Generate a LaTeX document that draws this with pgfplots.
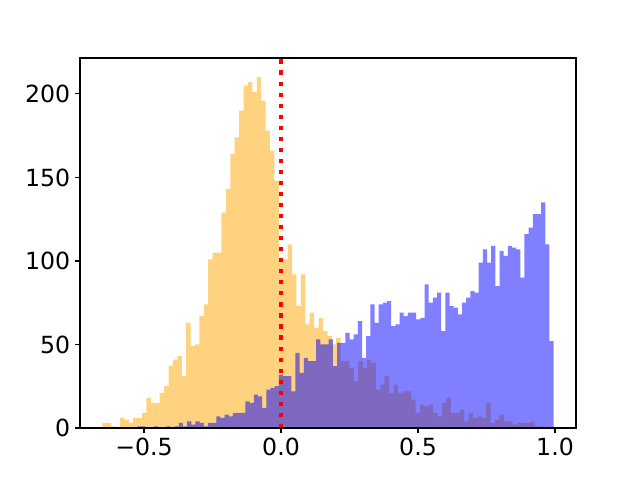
\documentclass[border=0pt]{standalone}
\usepackage{fontspec}
\setmainfont{DejaVu Sans}
\usepackage{pgfplots}
\pgfplotsset{compat=1.18}
\usepackage{pgfplotstable}
\definecolor{mplorange}{RGB}{255,165,0}
\definecolor{mplblue}{RGB}{0,0,255}

\pgfplotstableread{
x y
-0.652 3
-0.6359 3
-0.6198 1
-0.6037 0
-0.5876 6
-0.5715 5
-0.5554 3
-0.5393 6
-0.5232 6
-0.5071 9
-0.491 18
-0.4749 15
-0.4588 15
-0.4427 21
-0.4266 25
-0.4105 37
-0.3944 41
-0.3783 43
-0.3622 31
-0.3461 63
-0.330 49
-0.3139 50
-0.2978 67
-0.2817 74
-0.2656 101
-0.2495 105
-0.2334 105
-0.2173 129
-0.2012 143
-0.1851 164
-0.169 174
-0.1529 190
-0.1368 205
-0.1207 207
-0.1046 201
-0.0885 210
-0.0724 196
-0.0563 178
-0.0402 166
-0.0241 148
-0.008 101
0.0081 101
0.0242 110
0.0403 92
0.0564 73
0.0725 92
0.0886 62
0.1047 69
0.1208 60
0.1369 66
0.153 58
0.1691 55
0.1852 50
0.2013 54
0.2174 40
0.2335 40
0.2496 36
0.2657 28
0.2818 40
0.2979 36
0.314 41
0.3301 39
0.3462 23
0.3623 26
0.3784 31
0.3945 21
0.4106 26
0.4267 21
0.4428 22
0.4589 22
0.475 17
0.4911 9
0.5072 14
0.5233 13
0.5394 14
0.5555 9
0.5716 7
0.5877 15
0.6038 18
0.6199 9
0.636 9
0.6521 11
0.6682 4
0.6843 9
0.7004 6
0.7165 7
0.7326 6
0.7487 15
0.7648 3
0.7809 5
0.797 8
0.8131 4
0.8292 4
0.8453 2
0.8614 3
0.8775 3
0.8936 3
0.9097 4
0.9258 1
0.9419 1
0.958 0
}\orangedata

\pgfplotstableread{
x y
-0.525 1
-0.5098 1
-0.4946 0
-0.4794 0
-0.4642 1
-0.449 0
-0.4338 0
-0.4186 1
-0.4034 0
-0.3882 1
-0.373 3
-0.3578 1
-0.3426 4
-0.3274 2
-0.3122 4
-0.297 3
-0.2818 1
-0.2666 3
-0.2514 3
-0.2362 7
-0.221 6
-0.2058 8
-0.1906 7
-0.1754 9
-0.1602 9
-0.145 9
-0.1298 16
-0.1146 15
-0.0994 20
-0.0842 19
-0.069 12
-0.0538 23
-0.0386 24
-0.0234 25
-0.0082 32
0.007 31
0.0222 31
0.0374 22
0.0526 45
0.0678 33
0.083 42
0.0982 40
0.1134 40
0.1286 53
0.1438 50
0.159 50
0.1742 53
0.1894 37
0.2046 51
0.2198 51
0.235 57
0.2502 53
0.2654 56
0.2806 64
0.2958 42
0.311 55
0.3262 74
0.3414 63
0.3566 74
0.3718 75
0.387 76
0.4022 61
0.4174 62
0.4326 69
0.4478 67
0.463 69
0.4782 69
0.4934 65
0.5086 66
0.5238 86
0.539 75
0.5542 78
0.5694 81
0.5846 58
0.5998 81
0.615 73
0.6302 72
0.6454 68
0.6606 75
0.6758 78
0.691 82
0.7062 81
0.7214 99
0.7366 107
0.7518 99
0.767 109
0.7822 85
0.7974 106
0.8126 103
0.8278 109
0.843 108
0.8582 107
0.8734 90
0.8886 116
0.9038 120
0.919 128
0.9342 128
0.9494 135
0.9646 110
0.9798 52
0.995 0
}\bluedata

\begin{document}
\begin{tikzpicture}
\begin{axis}[
  scale only axis,
  width=357.12pt, height=266.4pt,
  xmin=-0.7336, xmax=1.0766,
  ymin=0, ymax=221.5,
  axis on top,
  axis line style={line width=0.8pt},
  tick align=outside,
  major tick length=3.5pt,
  tick style={black, line width=0.8pt},
  xtick pos=bottom, ytick pos=left,
  xtick={-0.5,0,0.5,1},
  xticklabels={−0.5,0.0,0.5,1.0},
  ytick={0,50,100,150,200},
  yticklabels={0,50,100,150,200},
  ticklabel style={font=\fontsize{17}{20}\selectfont},
  clip=true,
]
\coordinate (sw) at (rel axis cs:0,0);
\coordinate (ne) at (rel axis cs:1,1);
\addplot[ybar interval, fill=mplorange, fill opacity=0.5, draw=none] table[x=x, y=y] {\orangedata};
\addplot[ybar interval, fill=mplblue, fill opacity=0.5, draw=none] table[x=x, y=y] {\bluedata};
\addplot[red, line width=3pt, dash pattern=on 3pt off 4.95pt] coordinates {(0,0) (0,221.5)};
\end{axis}
\path[use as bounding box] ([shift={(-57.6pt,-37.44pt)}]sw) rectangle ([shift={(46.08pt,41.76pt)}]ne);
\end{tikzpicture}
\end{document}
